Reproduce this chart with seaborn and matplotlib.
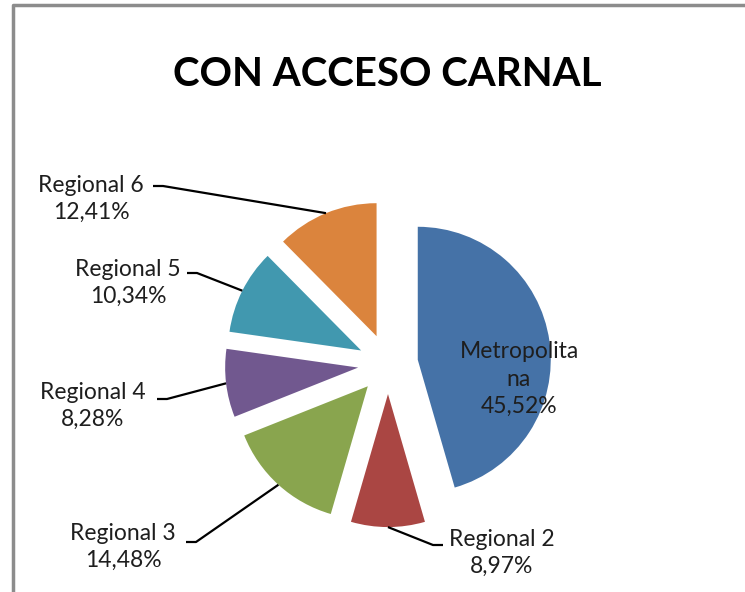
import numpy as np
import matplotlib
matplotlib.use("Agg")
import matplotlib.pyplot as plt
import seaborn as sns

# data
regiones = ["Metropolitana", "Regional 2", "Regional 3", "Regional 4", "Regional 5", "Regional 6"]
porcentajes = [45.52, 8.97, 14.48, 8.28, 10.34, 12.41]
etiquetas = ["Metropolita\nna\n45,52%", "Regional 2\n8,97%", "Regional 3\n14,48%",
             "Regional 4\n8,28%", "Regional 5\n10,34%", "Regional 6\n12,41%"]
colores = ["#4572A7", "#AA4643", "#89A54E", "#71588F", "#4198AF", "#DB843D"]

sns.set_style("white")
plt.rcParams["font.family"] = ["Lato", "DejaVu Sans"]

W, H = 745, 592
fig = plt.figure(figsize=(W / 100, H / 100), dpi=100)
ax = fig.add_axes([0, 0, 1, 1])

def px(x, y):
    return x, H - y

cx, cy = px(388, 364)
R = 133
expl = 0.226
pal = sns.color_palette(colores)
# matplotlib explode is an absolute offset, so scale it by the radius
ax.pie(porcentajes, colors=pal, startangle=90, counterclock=False,
       explode=[expl * R] * len(porcentajes), radius=R, center=(cx, cy),
       wedgeprops=dict(linewidth=0), frame=True)
ax.set_xlim(0, W)
ax.set_ylim(0, H)
ax.set_aspect("auto")
ax.axis("off")

# mid angles (clockwise from top)
cum = np.cumsum([0] + porcentajes)
mids = (cum[:-1] + cum[1:]) / 2 / 100 * 360

# label layout: text centre (px), leader start (px) or None
lab_pos = [(519, 379), (502, 553), (123, 547), (93, 406), (128, 283), (91, 199)]
lead_start = [None, (443, 545), (186, 542), (157, 399), (187, 273), (153, 186)]
lead_dir = [0, -1, 1, 1, 1, 1]

for i, lab in enumerate(etiquetas):
    x, y = px(*lab_pos[i])
    ax.text(x, y, lab, ha="center", va="center", fontsize=16.5,
            linespacing=1.4 if i == 0 else 1.3, color="#1e1e1e")
    if lead_start[i] is None:
        continue
    a = np.deg2rad(mids[i])
    d = np.array([np.sin(a), np.cos(a)])
    ex, ey = np.array([cx, cy]) + d * R * (1 + expl)
    sx, sy = px(*lead_start[i])
    kx = sx + 10 * lead_dir[i]
    ax.plot([sx, kx, ex], [sy, sy, ey], color="black", lw=1.6,
            solid_capstyle="butt")

ax.text(*px(387, 75), "CON ACCESO CARNAL", ha="center", va="center",
        fontsize=29, fontweight="bold", color="black")

# chart frame (cropped)
ax.plot([13, 13, W], [0, H - 5, H - 5], color="#8c8c8c", lw=2.5)

fig.savefig("out.png", dpi=100)
